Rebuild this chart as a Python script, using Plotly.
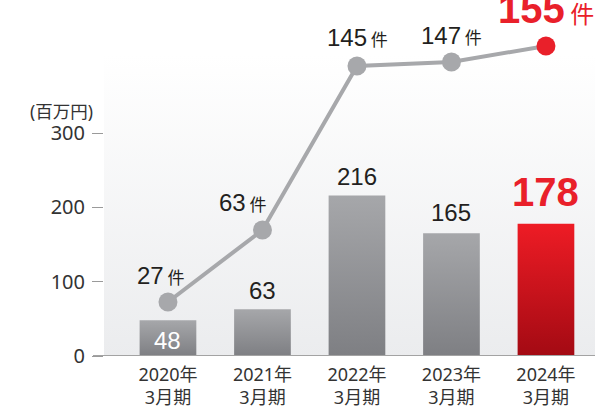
import base64
import plotly.graph_objects as go

# ---- data ----
categories = ["2020年<br>3月期", "2021年<br>3月期", "2022年<br>3月期", "2023年<br>3月期", "2024年<br>3月期"]
sales = [48, 63, 216, 165, 178]          # 百万円 (bars)
counts = [27, 63, 145, 147, 155]         # 件 (line)
y_ticks = [0, 100, 200, 300]
unit_label = "(百万円)"
count_unit = "件"

# ---- styles ----
GRAY_TOP, GRAY_BOT = "#a6a7aa", "#7e7f83"
RED_TOP, RED_BOT = "#ee1c25", "#a30a13"
LINE_GRAY = "#a7a8ab"
RED = "#e9202a"
TXT = "#231f20"
NUM_FONT = "Liberation Sans"
JP_FONT = "Noto Sans CJK JP"
TICK_FONT = "Noto Sans, Noto Sans CJK JP"
BAR_HALF = 0.3

x_pos = list(range(len(categories)))
last = len(categories) - 1

fig = go.Figure()

# bars drawn as filled shapes with vertical gradient
for i, v in zip(x_pos, sales):
    top, bot = (RED_TOP, RED_BOT) if i == last else (GRAY_TOP, GRAY_BOT)
    fig.add_trace(go.Scatter(
        x=[i - BAR_HALF, i + BAR_HALF, i + BAR_HALF, i - BAR_HALF, i - BAR_HALF],
        y=[0, 0, v, v, 0],
        fill="toself", mode="lines", line=dict(width=0),
        fillgradient=dict(type="vertical", colorscale=[[0, bot], [1, top]], start=0, stop=v),
        hoverinfo="skip", showlegend=False, yaxis="y",
    ))

# line with markers on secondary axis
fig.add_trace(go.Scatter(
    x=x_pos, y=counts, yaxis="y2", mode="lines+markers",
    line=dict(color=LINE_GRAY, width=4),
    marker=dict(size=19, color=[LINE_GRAY] * last + [RED]),
    cliponaxis=False, showlegend=False, hoverinfo="skip",
))

annotations = []
# bar value labels
bar_shift = [-20, 19, 19, 21, 32]
for i, v in zip(x_pos, sales):
    if i == last:
        txt = f"<b>{v}</b>"
        font = dict(family=NUM_FONT, size=40, color=RED)
    elif i == 0:
        txt = str(v)
        font = dict(family=NUM_FONT, size=24, color="white")
    else:
        txt = str(v)
        font = dict(family=NUM_FONT, size=24, color=TXT)
    annotations.append(dict(x=i, y=v, xref="x", yref="y", text=txt, showarrow=False,
                            yanchor="middle", xanchor="center", yshift=bar_shift[i], font=font))

# line value labels
line_yshift = [27, 27.5, 28.5, 27, 37.5]
line_xshift = [-7, -19, 1, 0, 0]
for i, c in zip(x_pos, counts):
    if i == last:
        txt = f"<b>{c}</b><span style='font-family:{JP_FONT};font-size:24px'> {count_unit}</span>"
        font = dict(family=NUM_FONT, size=40, color=RED)
    else:
        txt = f"{c}<span style='font-family:{JP_FONT};font-size:17px'> {count_unit}</span>"
        font = dict(family=NUM_FONT, size=24, color=TXT)
    annotations.append(dict(x=i, y=c, xref="x", yref="y2", text=txt, showarrow=False,
                            yanchor="middle", xanchor="center", yshift=line_yshift[i],
                            xshift=line_xshift[i], font=font))

annotations.append(dict(x=-0.018, y=329, xref="paper", yref="y", text=unit_label, showarrow=False,
                        xanchor="right", yanchor="middle",
                        font=dict(family=TICK_FONT, size=17.5, color="#333333")))

svg = ("<svg xmlns='http://www.w3.org/2000/svg' width='100' height='100' preserveAspectRatio='none'>"
       "<defs><linearGradient id='g' x1='0' y1='0' x2='0' y2='1'>"
       "<stop offset='0' stop-color='#ffffff'/><stop offset='1' stop-color='#ebecee'/>"
       "</linearGradient></defs><rect width='100' height='100' fill='url(#g)'/></svg>")
bg_src = "data:image/svg+xml;base64," + base64.b64encode(svg.encode()).decode()

fig.update_layout(
    width=595, height=414,
    margin=dict(l=104, r=0, t=0, b=58),
    paper_bgcolor="white", plot_bgcolor="rgba(0,0,0,0)",
    xaxis=dict(range=[-0.677, 4.519], tickvals=x_pos, ticktext=categories,
               showgrid=False, zeroline=False, showline=False, ticks="",
               ticklabelstandoff=6,
               tickfont=dict(family=TICK_FONT, size=18, color="#333333"), fixedrange=True),
    yaxis=dict(range=[0, 479], tickvals=y_ticks, showgrid=False, zeroline=False, showline=False,
               ticks="outside", ticklen=11, tickcolor="#9a9a9a", tickwidth=1,
               ticklabelstandoff=3,
               tickfont=dict(family=TICK_FONT, size=20, color="#333333"), fixedrange=True),
    yaxis2=dict(range=[0, 178], overlaying="y", visible=False, fixedrange=True),
    annotations=annotations,
    images=[dict(source=bg_src, xref="paper", yref="y", x=0, y=405, sizex=1, sizey=405,
                 xanchor="left", yanchor="top", sizing="stretch", layer="below")],
    shapes=[dict(type="line", xref="paper", yref="y", x0=-0.0224, x1=1, y0=0, y1=0,
                 line=dict(color="#a3a3a3", width=2), layer="above")],
    showlegend=False,
)

fig.write_html("out.html")
